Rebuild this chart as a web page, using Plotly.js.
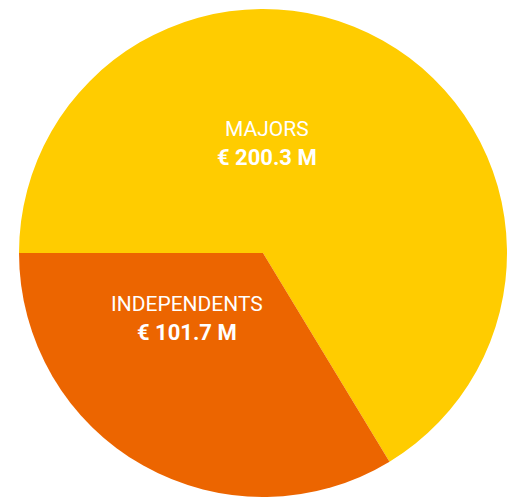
<!DOCTYPE html>
<html>
<head>
<meta charset="utf-8">
<script src="https://cdn.plot.ly/plotly-3.0.1.min.js"></script>
<style>html,body{margin:0;padding:0;background:#fff;}#chart{width:507px;height:497px;}</style>
</head>
<body>
<div id="chart"></div>
<script>
const categories = ["MAJORS", "INDEPENDENTS"];
const values = [200.3, 101.7];
const valueLabels = ["€ 200.3 M", "€ 101.7 M"];
const colors = ["#FFCC00", "#EC6500"];

const W = 507, H = 497;
const px = x => x / W;
const py = y => 1 - y / H;
const font = "Roboto, Arial, sans-serif";

const labelPos = { "MAJORS": [267, 129, 157.5], "INDEPENDENTS": [187, 304, 332.5] };

const annotations = [];
categories.forEach((c, i) => {
  const p = labelPos[c];
  annotations.push({ text: c, x: px(p[0]), y: py(p[1]), xref: "paper", yref: "paper",
    xanchor: "center", yanchor: "middle", showarrow: false,
    font: { family: font, size: 21, color: "#ffffff" } });
  annotations.push({ text: "<b>" + valueLabels[i] + "</b>", x: px(p[0]), y: py(p[2]), xref: "paper", yref: "paper",
    xanchor: "center", yanchor: "middle", showarrow: false,
    font: { family: font, size: 22, color: "#ffffff" } });
});

Plotly.newPlot("chart", [{
  type: "pie",
  labels: categories,
  values: values,
  marker: { colors: colors, line: { width: 0 } },
  sort: false,
  direction: "clockwise",
  rotation: 270,
  textinfo: "none",
  hoverinfo: "none",
  showlegend: false,
  domain: { x: [19 / W, 1], y: [0, 1 - 9 / H] }
}], {
  width: W, height: H,
  margin: { l: 0, r: 0, t: 0, b: 0 },
  paper_bgcolor: "#ffffff",
  showlegend: false,
  annotations: annotations
}, { displayModeBar: false, staticPlot: true });
</script>
</body>
</html>
